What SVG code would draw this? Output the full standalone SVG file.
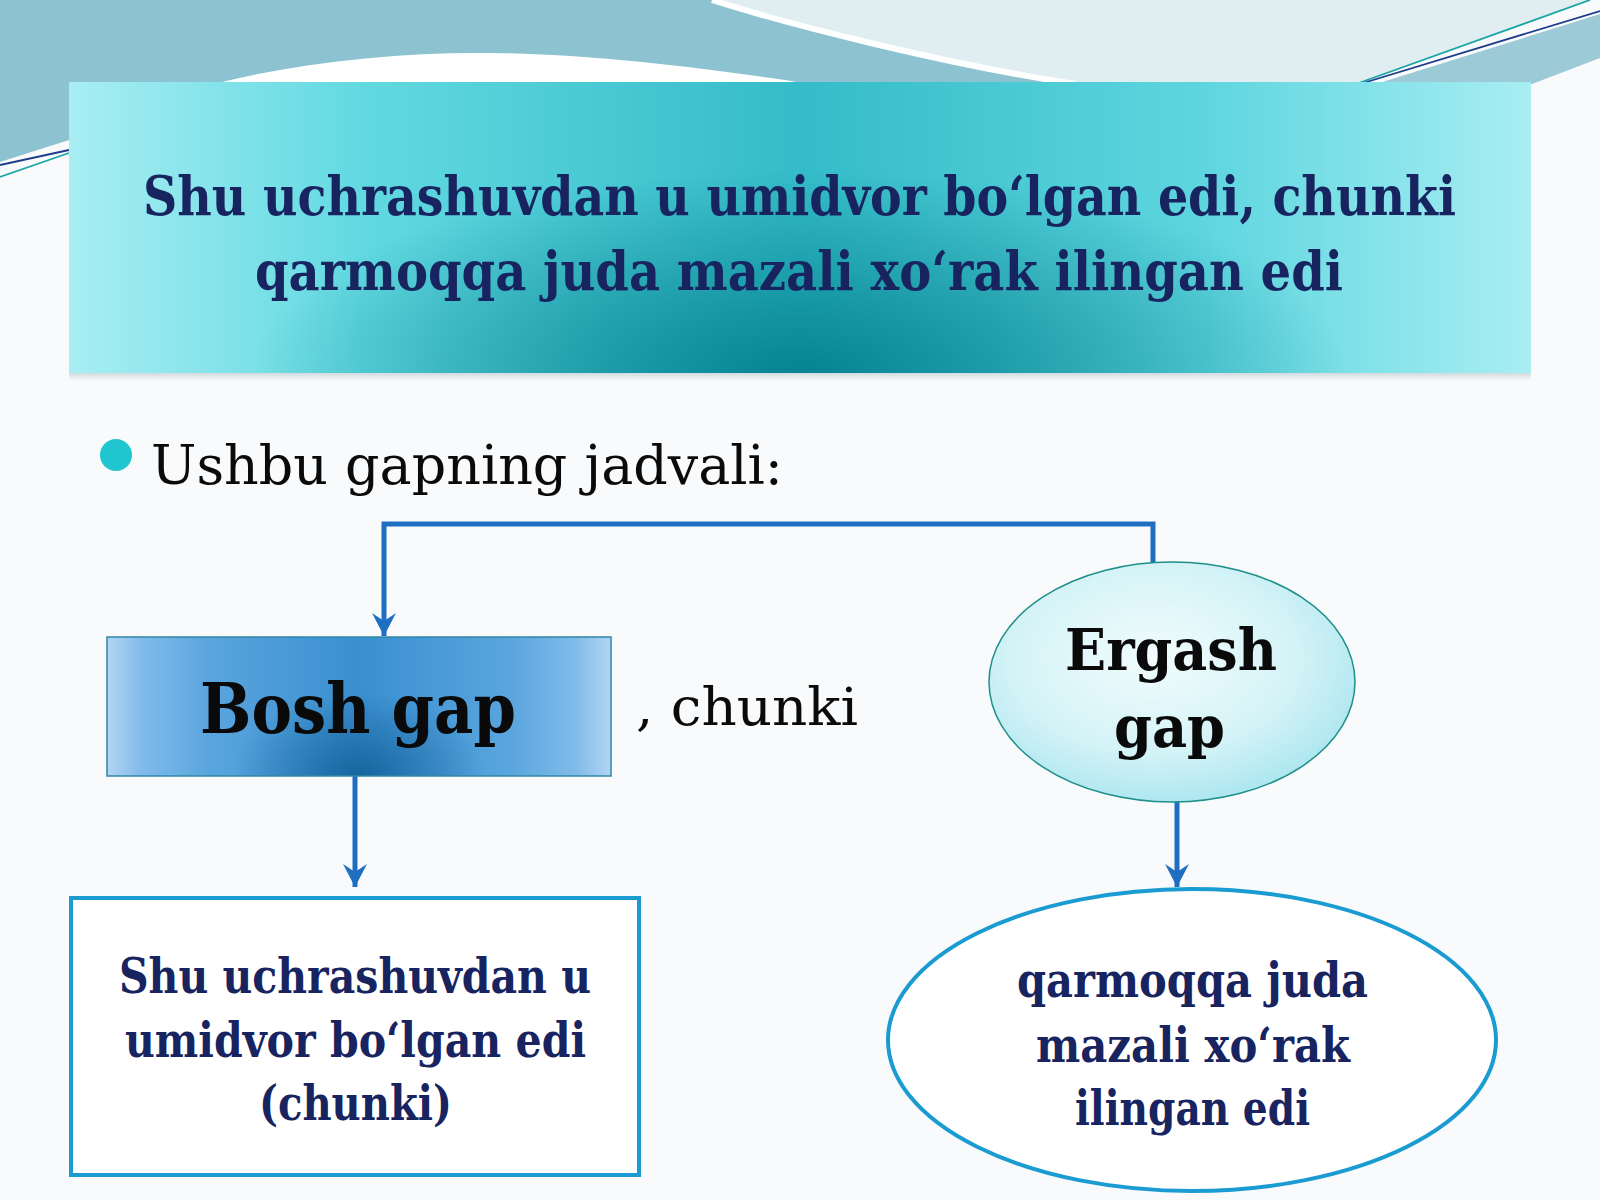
<svg xmlns="http://www.w3.org/2000/svg" width="1600" height="1200" viewBox="0 0 1600 1200">
<defs>
<style>
.serif{font-family:"DejaVu Serif","Liberation Serif",serif;}
.navy{fill:#18245f;font-weight:bold;}
.blk{fill:#0a0a0a;}
.conn{fill:none;stroke:#1e6fc2;stroke-width:5;}
.cond{font-stretch:condensed;}
</style>
<linearGradient id="hdrH" x1="0" y1="0" x2="1" y2="0">
<stop offset="0" stop-color="#a8eef3"/>
<stop offset="0.2" stop-color="#62d9e1"/>
<stop offset="0.5" stop-color="#34bcc8"/>
<stop offset="0.78" stop-color="#5fd6df"/>
<stop offset="1" stop-color="#a8eef3"/>
</linearGradient>
<radialGradient id="hdrR" cx="0.5" cy="1" r="0.5" gradientTransform="translate(0.5 1) scale(0.75 1.4) translate(-0.5 -1)">
<stop offset="0" stop-color="#03808e" stop-opacity="0.95"/>
<stop offset="1" stop-color="#03808e" stop-opacity="0"/>
</radialGradient>
<linearGradient id="boshH" x1="0" y1="0" x2="1" y2="0">
<stop offset="0" stop-color="#b3d5f3"/>
<stop offset="0.07" stop-color="#80bbea"/>
<stop offset="0.2" stop-color="#5aa5de"/>
<stop offset="0.5" stop-color="#3a8fcf"/>
<stop offset="0.8" stop-color="#5aa5de"/>
<stop offset="0.93" stop-color="#80bbea"/>
<stop offset="1" stop-color="#b3d5f3"/>
</linearGradient>
<radialGradient id="boshR" cx="0.5" cy="1" r="0.5" gradientTransform="translate(0.5 1) scale(0.5 1.2) translate(-0.5 -1)">
<stop offset="0" stop-color="#0c5a92" stop-opacity="0.8"/>
<stop offset="1" stop-color="#0c5a92" stop-opacity="0"/>
</radialGradient>
<radialGradient id="ergR" cx="0.45" cy="0.4" r="0.65">
<stop offset="0" stop-color="#f2fcfd"/>
<stop offset="0.6" stop-color="#d4f3f7"/>
<stop offset="1" stop-color="#a6e4ee"/>
</radialGradient>
<linearGradient id="shadow" x1="0" y1="0" x2="0" y2="1">
<stop offset="0" stop-color="#c9d3d8" stop-opacity="0.8"/>
<stop offset="1" stop-color="#c9d3d8" stop-opacity="0"/>
</linearGradient>
<marker id="arr" viewBox="-1 -13 25 26" markerWidth="25" markerHeight="26" refX="23" refY="0" orient="auto" markerUnits="userSpaceOnUse">
<path d="M0,-12 L23,0 L0,12 L8,0 Z" fill="#1e6fc2"/>
</marker>
</defs>

<!-- background -->
<rect x="0" y="0" width="1600" height="1200" fill="#f8fafb"/>
<path d="M0,0 H712 C790,25 950,65 1075,84 H69 V140 L0,162 Z" fill="#8dc2d1"/>
<path d="M214,84 C300,62 400,52 490,53 C600,54 720,70 810,84 Z" fill="#ffffff"/>
<path d="M712,0 C790,25 950,65 1075,84 H1357 L1592,0 Z" fill="#e0eef2"/>
<path d="M712,0 C790,25 950,65 1075,84" fill="none" stroke="#ffffff" stroke-width="6"/>
<path d="M1376,84 L1600,14 V58 L1532,84 Z" fill="#9ccad6"/>
<line x1="1356" y1="84" x2="1590" y2="0" stroke="#1aa6a6" stroke-width="1.8"/>
<line x1="1360" y1="84" x2="1600" y2="11" stroke="#1d3d8a" stroke-width="1.8"/>
<line x1="0" y1="165" x2="69" y2="150" stroke="#1d3d8a" stroke-width="1.8"/>
<line x1="0" y1="177" x2="69" y2="153" stroke="#1aa6a6" stroke-width="1.8"/>

<!-- header -->
<g id="header">
<rect x="69" y="373" width="1462" height="8" fill="url(#shadow)"/>
<rect x="69" y="82" width="1462" height="291" fill="url(#hdrH)"/>
<rect x="69" y="82" width="1462" height="291" fill="url(#hdrR)"/>
<text class="serif navy cond" x="143" y="215" font-size="54" textLength="1313" lengthAdjust="spacingAndGlyphs">Shu uchrashuvdan u umidvor bo‘lgan edi, chunki</text>
<text class="serif navy cond" x="255" y="290" font-size="54" textLength="1088" lengthAdjust="spacingAndGlyphs">qarmoqqa juda mazali xo‘rak ilingan edi</text>
</g>

<g id="subtitle">
<circle cx="116" cy="455" r="16" fill="#1fc6cf"/>
<text class="serif blk" x="151" y="484" font-size="55" textLength="632" lengthAdjust="spacingAndGlyphs">Ushbu gapning jadvali:</text>
</g>

<!-- connectors -->
<g id="connectors">
<path class="conn" d="M1153,562 V524 H384 V636" marker-end="url(#arr)"/>
<path class="conn" d="M355,776 V887" marker-end="url(#arr)"/>
<path class="conn" d="M1177,802 V887" marker-end="url(#arr)"/>
</g>

<g id="bosh-gap">
<rect x="107" y="637" width="504" height="139" fill="url(#boshH)"/>
<rect x="107" y="637" width="504" height="139" fill="url(#boshR)" stroke="#2f87a6" stroke-width="1.5"/>
<text class="serif blk" x="200" y="733" font-size="69" font-weight="bold" textLength="316" lengthAdjust="spacingAndGlyphs">Bosh gap</text>
</g>

<g id="chunki">
<text class="serif blk" x="636" y="725" font-size="53" textLength="222" lengthAdjust="spacingAndGlyphs">, chunki</text>
</g>

<g id="ergash-gap">
<ellipse cx="1172" cy="682" rx="183" ry="120" fill="url(#ergR)" stroke="#1f8f8a" stroke-width="1.5"/>
<text class="serif blk" x="1065" y="670" font-size="58" font-weight="bold" textLength="212" lengthAdjust="spacingAndGlyphs">Ergash</text>
<text class="serif blk" x="1114" y="747" font-size="58" font-weight="bold" textLength="111" lengthAdjust="spacingAndGlyphs">gap</text>
</g>

<g id="bosh-text">
<rect x="71" y="898" width="568" height="277" fill="#ffffff" stroke="#1a9bd1" stroke-width="4"/>
<text class="serif navy" x="119" y="993" font-size="48" textLength="472" lengthAdjust="spacingAndGlyphs">Shu uchrashuvdan u</text>
<text class="serif navy" x="125" y="1057" font-size="48" textLength="461" lengthAdjust="spacingAndGlyphs">umidvor bo‘lgan edi</text>
<text class="serif navy" x="259" y="1120" font-size="48" textLength="193" lengthAdjust="spacingAndGlyphs">(chunki)</text>
</g>

<g id="ergash-text">
<ellipse cx="1192" cy="1040" rx="304" ry="151" fill="#ffffff" stroke="#1a9bd1" stroke-width="4"/>
<text class="serif navy" x="1017" y="997" font-size="48" textLength="351" lengthAdjust="spacingAndGlyphs">qarmoqqa juda</text>
<text class="serif navy" x="1036" y="1062" font-size="48" textLength="314" lengthAdjust="spacingAndGlyphs">mazali xo‘rak</text>
<text class="serif navy" x="1075" y="1125" font-size="48" textLength="235" lengthAdjust="spacingAndGlyphs">ilingan edi</text>
</g>
</svg>
